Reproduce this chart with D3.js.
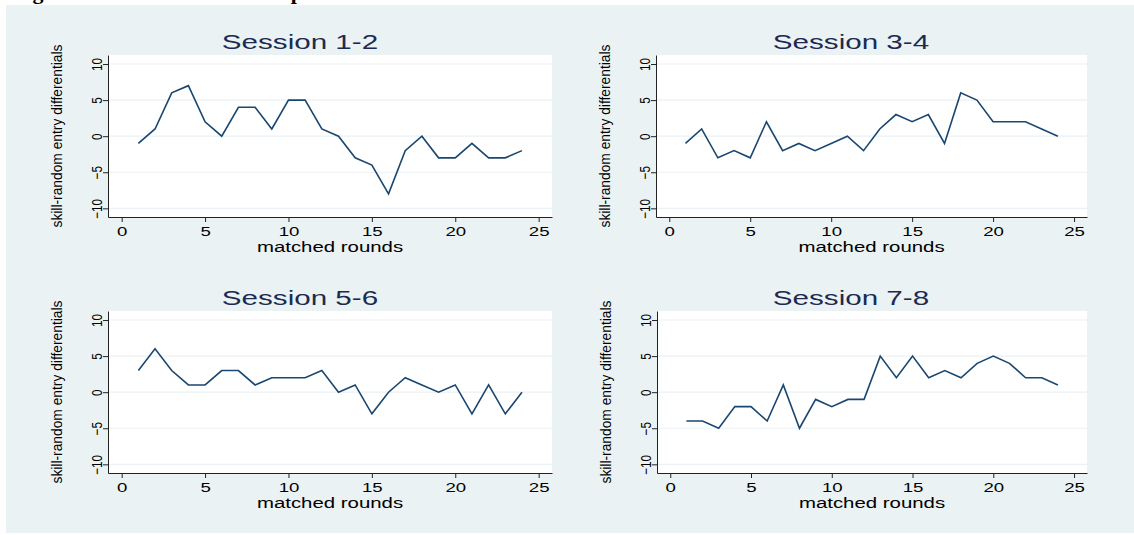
<!DOCTYPE html>
<html>
<head>
<meta charset="utf-8">
<script src="https://cdn.jsdelivr.net/npm/d3@7"></script>
<style>
  body { margin: 0; background: #fff; }
  svg { display: block; }
</style>
</head>
<body>
<svg id="chart" width="1134" height="535"></svg>
<script>
// data
const rounds = [1, 2, 3, 4, 5, 6, 7, 8, 9, 10, 11, 12, 13, 14, 15, 16, 17, 18, 19, 20, 21, 22, 23, 24];
const session12 = [-1, 1, 6, 7, 2, 0, 4, 4, 1, 5, 5, 1, 0, -3, -4, -8, -2, 0, -3, -3, -1, -3, -3, -2];
const session34 = [-1, 1, -3, -2, -3, 2, -2, -1, -2, -1, 0, -2, 1, 3, 2, 3, -1, 6, 5, 2, 2, 2, 1, 0];
const session56 = [3, 6, 3, 1, 1, 3, 3, 1, 2, 2, 2, 3, 0, 1, -3, 0, 2, 1, 0, 1, -3, 1, -3, 0];
const session78 = [-4, -4, -5, -2, -2, -4, 1, -5, -1, -2, -1, -1, 5, 2, 5, 2, 3, 2, 4, 5, 4, 2, 2, 1];
const titles = ["Session 1-2", "Session 3-4", "Session 5-6", "Session 7-8"];
const xTicks = [0, 5, 10, 15, 20, 25];
const yTicks = [-10, -5, 0, 5, 10];
const xTitle = "matched rounds";
const yTitle = "skill-random entry differentials";
const header = "Figure 3: Time trends for the paired sessions";

const svg = d3.select("svg#chart");
const bg = "#eaf2f3";
const lineColor = "#1a476f";
const axisColor = "#222";
const font = "'Liberation Sans', Arial, Helvetica, sans-serif";

// plot regions of the four graphs
const panels = [
    {title: titles[0], values: session12, left: 108, right: 552, top: 55, bottom: 217, titleX: 300},
    {title: titles[1], values: session34, left: 656, right: 1087, top: 55, bottom: 217, titleX: 851},
    {title: titles[2], values: session56, left: 108, right: 552, top: 311, bottom: 473, titleX: 300},
    {title: titles[3], values: session78, left: 657, right: 1087, top: 311, bottom: 473, titleX: 851},
];

// header of the page, mostly cut off above
svg.append("text")
    .attr("x", 13)
    .attr("y", -1)
    .attr("font-family", "'Liberation Serif', 'Times New Roman', serif")
    .attr("font-weight", "bold")
    .attr("font-size", 22)
    .attr("fill", "#000")
    .text(header);

svg.append("rect")
    .attr("x", 6).attr("y", 5)
    .attr("width", 1128).attr("height", 528)
    .attr("fill", bg);

panels.forEach(p => drawPanel(p));

function drawPanel(p) {
    const g = svg.append("g");
    const x = d3.scaleLinear().domain([-0.82, 25.8]).range([p.left, p.right]);
    const y = d3.scaleLinear().domain([-11.2, 11.25]).range([p.bottom, p.top]);

    g.append("rect")
        .attr("x", p.left).attr("y", p.top)
        .attr("width", p.right - p.left).attr("height", p.bottom - p.top)
        .attr("fill", "#fff");

    // grid lines
    g.selectAll("line.grid")
        .data(yTicks)
        .join("line")
        .attr("class", "grid")
        .attr("x1", p.left).attr("x2", p.right)
        .attr("y1", d => y(d)).attr("y2", d => y(d))
        .attr("stroke", bg)
        .attr("stroke-width", 1.2);

    // x axis
    const xAxis = d3.axisBottom(x).tickValues(xTicks).tickSize(5).tickPadding(4).tickSizeOuter(0);
    const xg = g.append("g")
        .attr("transform", `translate(0,${p.bottom})`)
        .call(xAxis)
        .attr("font-family", font)
        .attr("font-size", 13.5);
    xg.select(".domain").attr("stroke", axisColor);
    xg.selectAll(".tick line").attr("stroke", axisColor);
    xg.selectAll(".tick text").attr("fill", "#000").attr("transform", "scale(1.38,1)");

    // y axis, labels turned
    const yAxis = d3.axisLeft(y).tickValues(yTicks).tickSize(5).tickSizeOuter(0);
    const yg = g.append("g")
        .attr("transform", `translate(${p.left},0)`)
        .call(yAxis)
        .attr("font-family", font)
        .attr("font-size", 15);
    yg.select(".domain").attr("stroke", axisColor);
    yg.selectAll(".tick line").attr("stroke", axisColor);
    yg.selectAll(".tick text")
        .attr("fill", "#000")
        .attr("x", 0).attr("y", -6).attr("dy", 0)
        .attr("text-anchor", "middle")
        .attr("transform", "rotate(-90) scale(0.78,1)");

    // axis titles
    g.append("text")
        .attr("transform", `translate(${(p.left + p.right) / 2},${p.bottom + 35}) scale(1.36,1)`)
        .attr("text-anchor", "middle")
        .attr("font-family", font)
        .attr("font-size", 15)
        .attr("fill", "#000")
        .text(xTitle);

    g.append("text")
        .attr("transform", `translate(${p.left - 46},${(p.top + p.bottom) / 2}) rotate(-90)`)
        .attr("text-anchor", "middle")
        .attr("font-family", font)
        .attr("font-size", 15)
        .attr("textLength", 183)
        .attr("lengthAdjust", "spacingAndGlyphs")
        .attr("fill", "#000")
        .text(yTitle);

    // graph title
    g.append("text")
        .attr("transform", `translate(${p.titleX},${p.top - 6}) scale(1.48,1)`)
        .attr("text-anchor", "middle")
        .attr("font-family", font)
        .attr("font-size", 20)
        .attr("fill", "#1c2a52")
        .text(p.title);

    const line = d3.line()
        .x((d, i) => x(rounds[i]))
        .y(d => y(d));

    g.append("path")
        .datum(p.values)
        .attr("d", line)
        .attr("fill", "none")
        .attr("stroke", lineColor)
        .attr("stroke-width", 1.6);
}
</script>
</body>
</html>
